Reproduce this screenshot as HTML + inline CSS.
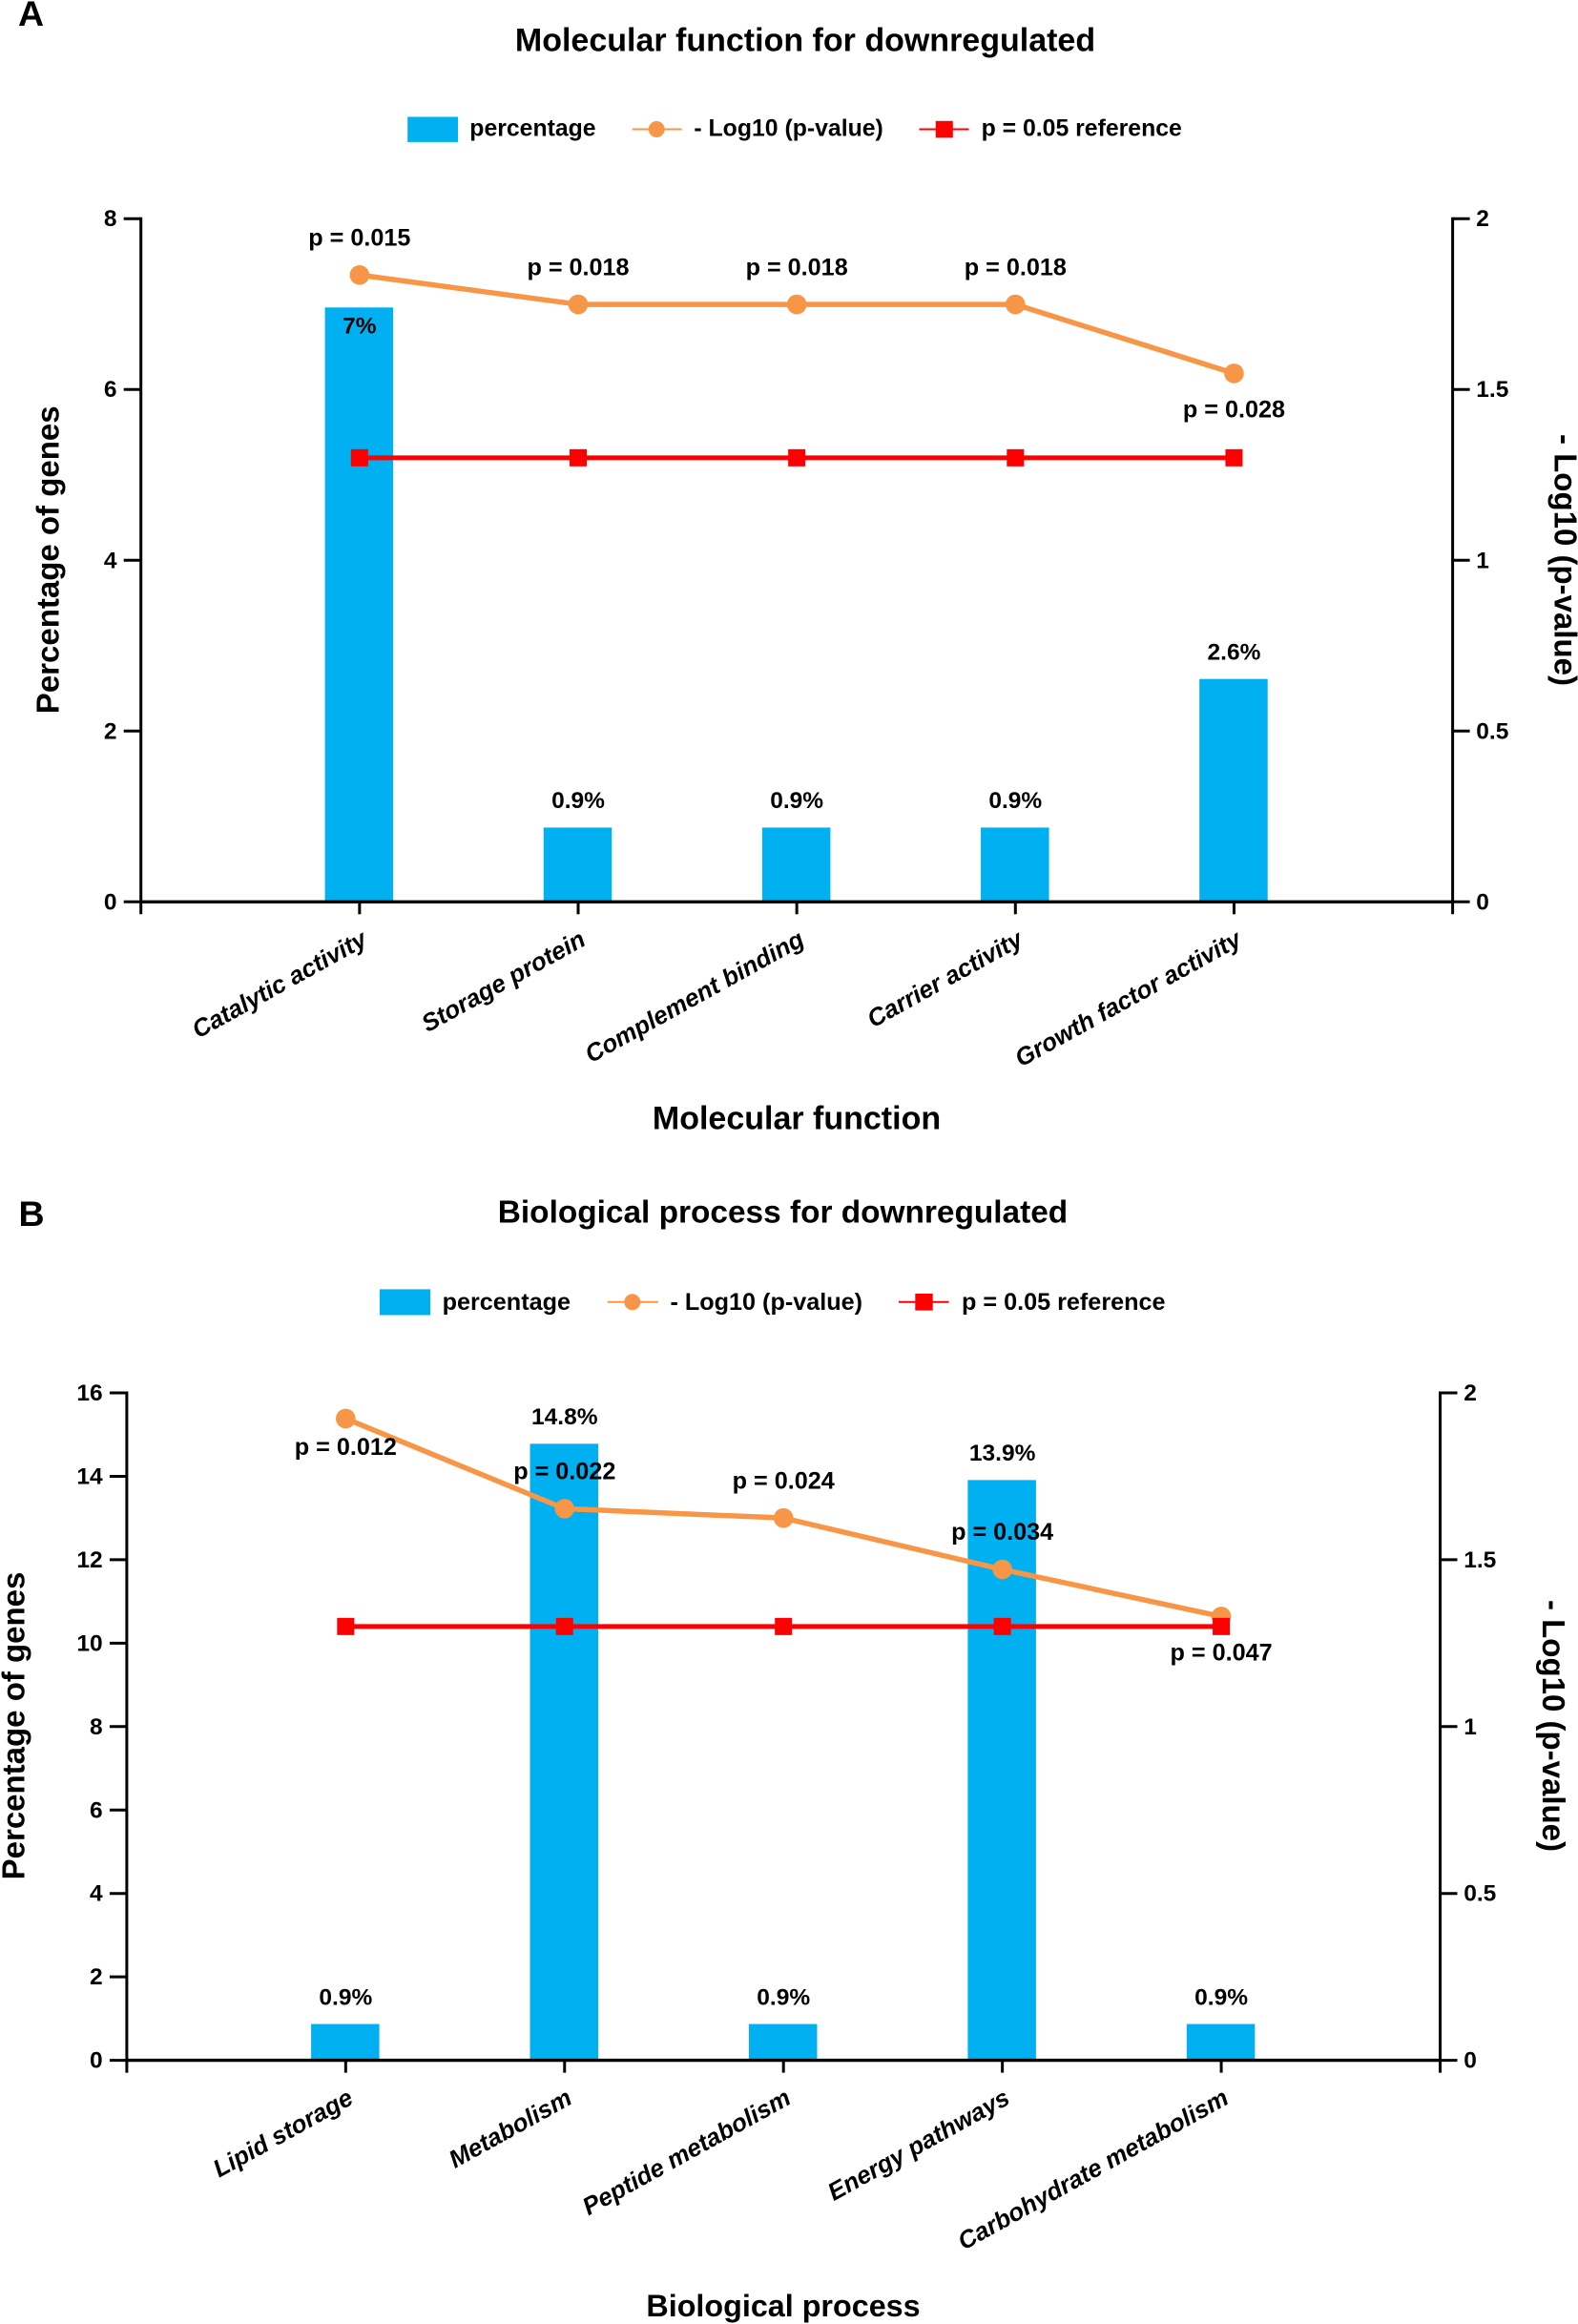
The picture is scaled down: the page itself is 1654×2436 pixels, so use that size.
<!DOCTYPE html>
<html lang="en">
<head>
<meta charset="utf-8">
<title>Molecular function and biological process for downregulated genes</title>
<style>
  html, body { margin: 0; padding: 0; background: #fff; }
  #figure { display: block; width: 1654px; height: 2436px; }
  text { font-family: "Liberation Sans", Arial, sans-serif; font-weight: bold; fill: #000; }
  .title { font-size: 34px; }
  .label { font-size: 24.5px; }
  .plabel { font-size: 25.2px; }
  .legend-a { font-size: 24.8px; }
  .legend-b { font-size: 25.2px; }
  .rot { font-size: 33px; }
  .letter { font-size: 37.5px; }
  .cat { font-size: 25.9px; font-style: italic; }
</style>
</head>
<body>
<svg id="figure" xmlns="http://www.w3.org/2000/svg" width="1654" height="2436" viewBox="0 0 1654 2436">
  <rect x="0" y="0" width="1654" height="2436" fill="#ffffff"/>

  <!-- Panel A static text and legend -->
  <g id="panel-a">
    <text class="letter" x="19" y="27">A</text>
    <text class="title" x="844" y="53.5" text-anchor="middle">Molecular function for downregulated</text>
    <g>
      <rect x="427.2" y="122.5" width="52.8" height="26.4" fill="#00B0F0"/>
      <text class="legend-a" x="492.3" y="142.7">percentage</text>
      <line x1="662.8" x2="714.6" y1="135.5" y2="135.5" stroke="#F79646" stroke-width="2"/>
      <circle cx="688.2" cy="135.5" r="8.5" fill="#F79646"/>
      <text class="legend-a" x="727.4" y="142.7">- Log10 (p-value)</text>
      <line x1="963.5" x2="1015.5" y1="135.5" y2="135.5" stroke="#FF0000" stroke-width="2"/>
      <rect x="980.8" y="126.8" width="18" height="17.6" fill="#FF0000"/>
      <text class="legend-a" x="1028.6" y="142.7">p = 0.05 reference</text>
    </g>
    <text class="title" x="835" y="1183.7" text-anchor="middle">Molecular function</text>
    <text class="rot" transform="translate(61.4 586.8) rotate(-90)" text-anchor="middle">Percentage of genes</text>
    <text class="rot" transform="translate(1629.5 587) rotate(90)" text-anchor="middle">- Log10 (p-value)</text>
  </g>

  <!-- Panel B static text and legend -->
  <g id="panel-b">
    <text class="letter" x="19.5" y="1285">B</text>
    <text class="title" style="font-size:33.4px" x="820.5" y="1281.3" text-anchor="middle">Biological process for downregulated</text>
    <g>
      <rect x="398" y="1351.4" width="53" height="27.1" fill="#00B0F0"/>
      <text class="legend-b" x="463.6" y="1372.8">percentage</text>
      <line x1="636.8" x2="689.8" y1="1364.8" y2="1364.8" stroke="#F79646" stroke-width="2"/>
      <circle cx="662.8" cy="1364.8" r="8.5" fill="#F79646"/>
      <text class="legend-b" x="702.5" y="1372.8">- Log10 (p-value)</text>
      <line x1="942" x2="994.5" y1="1364.8" y2="1364.8" stroke="#FF0000" stroke-width="2"/>
      <rect x="959.3" y="1356" width="18.4" height="17.6" fill="#FF0000"/>
      <text class="legend-b" x="1008" y="1372.8">p = 0.05 reference</text>
    </g>
    <text class="title" style="font-size:32.3px" x="821" y="2428" text-anchor="middle">Biological process</text>
    <text class="rot" transform="translate(25.4 1809) rotate(-90)" text-anchor="middle">Percentage of genes</text>
    <text class="rot" transform="translate(1617 1809) rotate(90)" text-anchor="middle">- Log10 (p-value)</text>
  </g>
</svg>

<script>
// Panel A data
const categoriesA = ['Catalytic activity', 'Storage protein', 'Complement binding', 'Carrier activity', 'Growth factor activity'];
const percentageA = [6.96, 0.87, 0.87, 0.87, 2.61];
const logPA = [1.835, 1.749, 1.749, 1.749, 1.547];
const referenceA = [1.3, 1.3, 1.3, 1.3, 1.3];
const percentLabelsA = ['7%', '0.9%', '0.9%', '0.9%', '2.6%'];
const percentPlacementA = ['inside', 'above', 'above', 'above', 'above'];
const pLabelsA = ['p = 0.015', 'p = 0.018', 'p = 0.018', 'p = 0.018', 'p = 0.028'];
const pPlacementA = ['above', 'above', 'above', 'above', 'below'];
const leftTicksA = [0, 2, 4, 6, 8];
const rightTicksA = [0, 0.5, 1, 1.5, 2];

// Panel B data
const categoriesB = ['Lipid storage', 'Metabolism', 'Peptide metabolism', 'Energy pathways', 'Carbohydrate metabolism'];
const percentageB = [0.87, 14.78, 0.87, 13.91, 0.87];
const logPB = [1.923, 1.653, 1.625, 1.471, 1.33];
const referenceB = [1.3, 1.3, 1.3, 1.3, 1.3];
const percentLabelsB = ['0.9%', '14.8%', '0.9%', '13.9%', '0.9%'];
const percentPlacementB = ['above', 'above', 'above', 'above', 'above'];
const pLabelsB = ['p = 0.012', 'p = 0.022', 'p = 0.024', 'p = 0.034', 'p = 0.047'];
const pPlacementB = ['near-below', 'above', 'above', 'above', 'below'];
const leftTicksB = [0, 2, 4, 6, 8, 10, 12, 14, 16];
const rightTicksB = [0, 0.5, 1, 1.5, 2];

const SVG_NS = 'http://www.w3.org/2000/svg';

function make(parent, tag, attrs) {
  const node = document.createElementNS(SVG_NS, tag);
  for (const key in attrs) node.setAttribute(key, attrs[key]);
  parent.appendChild(node);
  return node;
}

function drawPanel(root, frame, categories, percentage, logP, reference, percentLabels, percentPlacement, pLabels, pPlacement, leftTicks, rightTicks) {
  const leftMax = leftTicks[leftTicks.length - 1];
  const rightMax = rightTicks[rightTicks.length - 1];
  const xPos = function (i) { return frame.left + (frame.right - frame.left) * (i + 1) / (categories.length + 1); };
  const yLeft = function (v) { return frame.bottom - (frame.bottom - frame.top) * v / leftMax; };
  const yRight = function (v) { return frame.bottom - (frame.bottom - frame.top) * v / rightMax; };
  const tickLen = 18;
  const dropLen = 13;
  const barWidth = 71.5;

  // Bars
  percentage.forEach(function (v, i) {
    const bar = make(root, 'rect', { x: xPos(i) - barWidth / 2 - 0.5, y: yLeft(v), width: barWidth, height: frame.bottom - yLeft(v), fill: '#00B0F0' });
    
    
  });

  // Axes
  const leftAxis = make(root, 'line', { x1: frame.left, x2: frame.left, y1: frame.top - 1.5, y2: frame.bottom + dropLen, stroke: '#000', 'stroke-width': 3 });
  
  

  const rightAxis = make(root, 'line', { x1: frame.right, x2: frame.right, y1: frame.top - 1.5, y2: frame.bottom + dropLen, stroke: '#000', 'stroke-width': 3 });
  
  

  const xAxis = make(root, 'line', { x1: frame.left, x2: frame.right, y1: frame.bottom, y2: frame.bottom, stroke: '#000', 'stroke-width': 3.4 });
  
  

  leftTicks.forEach(function (v) {
    const tick = make(root, 'line', { x1: frame.left - tickLen, x2: frame.left, y1: yLeft(v), y2: yLeft(v), stroke: '#000', 'stroke-width': 3 });
    
    
    const label = make(root, 'text', { x: frame.left - 25.2, y: yLeft(v) + 8, 'text-anchor': 'end', class: 'label' });
    label.textContent = String(v);
    
    
  });

  rightTicks.forEach(function (v) {
    const tick = make(root, 'line', { x1: frame.right, x2: frame.right + tickLen, y1: yRight(v), y2: yRight(v), stroke: '#000', 'stroke-width': 3 });
    
    
    const label = make(root, 'text', { x: frame.right + 24.7, y: yRight(v) + 8, class: 'label' });
    label.textContent = String(v);
    
    
  });

  categories.forEach(function (name, i) {
    const tick = make(root, 'line', { x1: xPos(i), x2: xPos(i), y1: frame.bottom, y2: frame.bottom + dropLen, stroke: '#000', 'stroke-width': 3 });
    
    
    const label = make(root, 'text', { class: 'cat', 'text-anchor': 'end', transform: 'translate(' + (xPos(i) + 9.5) + ' ' + (frame.bottom + 44.5) + ') rotate(-29)' });
    label.textContent = name;
    
    
  });

  // -Log10(p) series
  const logPoints = logP.map(function (v, i) { return xPos(i) + ',' + yRight(v); }).join(' ');
  const logLine = make(root, 'polyline', { points: logPoints, fill: 'none', stroke: '#F79646', 'stroke-width': 5.5, 'stroke-linejoin': 'round' });
  
  
  logP.forEach(function (v, i) {
    const point = make(root, 'circle', { cx: xPos(i), cy: yRight(v), r: 10.3, fill: '#F79646' });
    
    
  });

  // Reference series
  const refPoints = reference.map(function (v, i) { return xPos(i) + ',' + yRight(v); }).join(' ');
  const refLine = make(root, 'polyline', { points: refPoints, fill: 'none', stroke: '#FF0000', 'stroke-width': 5 });
  
  
  reference.forEach(function (v, i) {
    const point = make(root, 'rect', { x: xPos(i) - 9, y: yRight(v) - 9, width: 18, height: 18, fill: '#FF0000' });
    
    
  });

  // Printed values
  const percentOffset = { above: -20.2, inside: 27 };
  percentLabels.forEach(function (text, i) {
    const label = make(root, 'text', { x: xPos(i), y: yLeft(percentage[i]) + percentOffset[percentPlacement[i]], 'text-anchor': 'middle', class: 'label' });
    label.textContent = text;
    
    
  });

  const pOffset = { above: -30.8, below: 46, 'near-below': 38 };
  pLabels.forEach(function (text, i) {
    const label = make(root, 'text', { x: xPos(i), y: yRight(logP[i]) + pOffset[pPlacement[i]], 'text-anchor': 'middle', class: 'plabel' });
    label.textContent = text;
    
    
  });
}

drawPanel(document.getElementById('panel-a'),
  { left: 147.7, right: 1522.6, top: 229.2, bottom: 945.3 },
  categoriesA, percentageA, logPA, referenceA, percentLabelsA, percentPlacementA, pLabelsA, pPlacementA, leftTicksA, rightTicksA);

drawPanel(document.getElementById('panel-b'),
  { left: 132.9, right: 1509.5, top: 1460, bottom: 2159.6 },
  categoriesB, percentageB, logPB, referenceB, percentLabelsB, percentPlacementB, pLabelsB, pPlacementB, leftTicksB, rightTicksB);
</script>
</body>
</html>
